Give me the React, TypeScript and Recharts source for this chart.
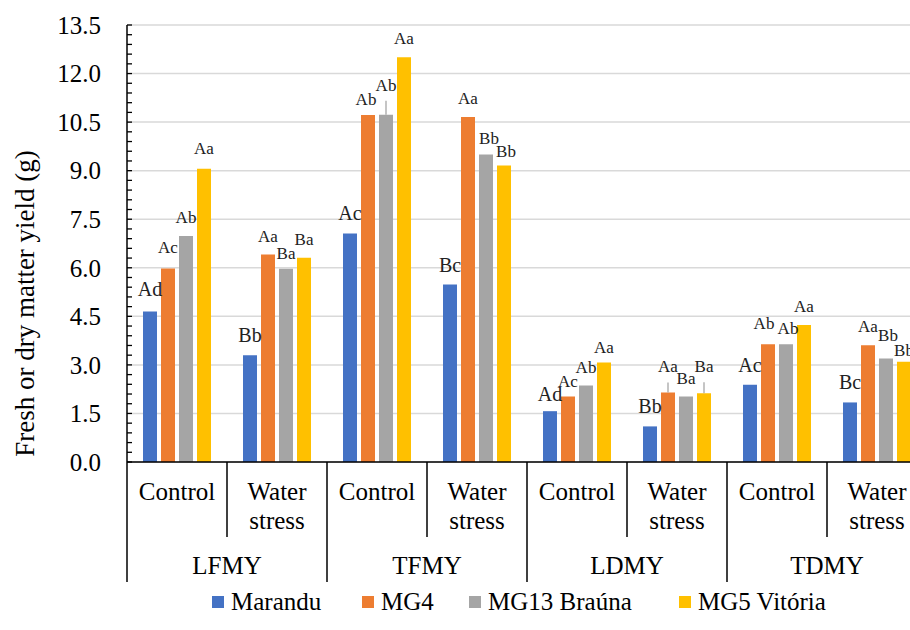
import React from 'react';
import { BarChart, Bar, XAxis, YAxis, CartesianGrid, Legend, LabelList, Label } from 'recharts';

const groups = ['LFMY', 'TFMY', 'LDMY', 'TDMY'];
const treatments = ['Control', 'Water stress'];

// one value per group/treatment, in order LFMY-C, LFMY-WS, TFMY-C, ...
const marandu = [4.65, 3.3, 7.06, 5.48, 1.57, 1.1, 2.39, 1.84];
const mg4 = [5.98, 6.41, 10.72, 10.66, 2.02, 2.15, 3.64, 3.61];
const mg13 = [6.98, 5.97, 10.73, 9.5, 2.36, 2.02, 3.64, 3.2];
const mg5 = [9.06, 6.31, 12.5, 9.16, 3.07, 2.12, 4.23, 3.1];

const maranduLetters = ['Ad', 'Bb', 'Ac', 'Bc', 'Ad', 'Bb', 'Ac', 'Bc'];
const mg4Letters = ['Ac', 'Aa', 'Ab', 'Aa', 'Ac', 'Aa', 'Ab', 'Aa'];
const mg13Letters = ['Ab', 'Ba', 'Ab', 'Bb', 'Ab', 'Ba', 'Ab', 'Bb'];
const mg5Letters = ['Aa', 'Ba', 'Aa', 'Bb', 'Aa', 'Ba', 'Aa', 'Bb'];

const yTicks = [0, 1.5, 3, 4.5, 6, 7.5, 9, 10.5, 12, 13.5];

const series = [
  { key: 'marandu', name: 'Marandu', color: '#4472C4', values: marandu, letters: maranduLetters, size: 20 },
  { key: 'mg4', name: 'MG4', color: '#ED7D31', values: mg4, letters: mg4Letters, size: 17 },
  { key: 'mg13', name: 'MG13 Braúna', color: '#A5A5A5', values: mg13, letters: mg13Letters, size: 17 },
  { key: 'mg5', name: 'MG5 Vitória', color: '#FFC000', values: mg5, letters: mg5Letters, size: 17 },
];

const cats = groups.flatMap((g) => treatments.map((t) => ({ group: g, treatment: t })));
const data = cats.map((c, i) => {
  const row: any = { key: `${c.group}|${c.treatment}` };
  series.forEach((s) => {
    row[s.key] = s.values[i];
    row[s.key + 'L'] = s.letters[i];
  });
  return row;
});

// minor ticks: five per major step
const minorTicks = yTicks
  .slice(0, -1)
  .flatMap((t, i) => [0, 1, 2, 3, 4].map((k) => Math.round((t + (k * (yTicks[i + 1] - t)) / 5) * 100) / 100))
  .concat(yTicks[yTicks.length - 1]);

const FONT = '"Liberation Serif", "Times New Roman", serif';
const W = 940;
const H = 630;
const AXIS_W = 127;
const MARGIN = { top: 25, right: 13, left: 0, bottom: 8 };
const BAND = (W - AXIS_W - MARGIN.right - MARGIN.left) / cats.length;

// label tweaks as in the source figure: [dx, extra lift, leader line]
const labelNudge: Record<string, [number, number, boolean]> = {
  'marandu-0': [0, 2, false],
  'mg4-0': [0, 2, false],
  'mg5-0': [0, 2, false],
  'mg13-1': [0, -3, false],
  'mg13-2': [0, 11, true],
  'mg4-2': [-2, -3, false],
  'mg13-3': [3, -3, false],
  'mg5-3': [2, -5, false],
  'marandu-4': [0, -3, false],
  'mg4-4': [0, -3, false],
  'mg5-4': [0, -3, false],
  'mg4-5': [0, 7, true],
  'mg5-5': [0, 8, true],
  'mg4-6': [-4, 2, false],
  'mg13-6': [2, -3, false],
  'mg13-7': [2, 4, false],
  'mg5-7': [0, -7, false],
};

// left edge of each legend marker
const legendX = [212, 362, 469, 679];

const YTick = (props: any) => {
  const { x, y, payload } = props;
  const v = payload.value;
  const major = yTicks.some((t) => Math.abs(t - v) < 1e-6);
  return (
    <g>
      <line x1={x} x2={x + 5} y1={y} y2={y} stroke="#000" strokeWidth={1.3} />
      {major && (
        <text x={x - 26} y={y} dy="0.35em" textAnchor="end" fontSize={25} fontFamily={FONT} fill="#000">
          {v.toFixed(1)}
        </text>
      )}
    </g>
  );
};

const XTick = (props: any) => {
  const { x, y, payload, index } = props;
  const [group, treatment] = String(payload.value).split('|');
  const half = BAND / 2;
  const first = treatment === treatments[0];
  const words = treatment.split(' ');
  return (
    <g fontFamily={FONT} fontSize={25} fill="#000">
      <line x1={x - half} x2={x - half} y1={y} y2={y + (first ? 120 : 75)} stroke="#000" strokeWidth={1.5} />
      {index === cats.length - 1 && (
        <line x1={x + half} x2={x + half} y1={y} y2={y + 120} stroke="#000" strokeWidth={1.5} />
      )}
      {words.map((w, i) => (
        <text key={i} x={x} y={y + 38 + i * 29} textAnchor="middle">
          {w}
        </text>
      ))}
      {first && (
        <text x={x + half} y={y + 112} textAnchor="middle">
          {group}
        </text>
      )}
    </g>
  );
};

const makeLabel = (key: string, size: number) => (props: any) => {
  const { x, y, width, value, index } = props;
  const [dx, extra, leader] = labelNudge[`${key}-${index}`] ?? [0, 0, false];
  const cx = Number(x) + Number(width) / 2;
  const top = Number(y);
  return (
    <g>
      {leader && <line x1={cx} x2={cx + dx} y1={top} y2={top - extra - 3} stroke="#a6a6a6" strokeWidth={1.3} />}
      <text x={cx + dx} y={top - 13 - extra} textAnchor="middle" fontSize={size} fontFamily={FONT} fill="#222">
        {value}
      </text>
    </g>
  );
};

const renderLegend = () => (
  <div style={{ position: 'relative', height: 40, fontSize: 25, fontFamily: FONT, color: '#000' }}>
    {series.map((s, i) => (
      <div
        key={s.key}
        style={{ position: 'absolute', left: legendX[i], top: 0, height: 40, display: 'flex', alignItems: 'center', whiteSpace: 'nowrap' }}
      >
        <span style={{ width: 12, height: 12, background: s.color, marginRight: 7, display: 'inline-block' }} />
        <span>{s.name}</span>
      </div>
    ))}
  </div>
);

export default function App() {
  return (
    <div style={{ position: 'absolute', left: 0, top: 0, width: 910, height: 630, overflow: 'hidden', background: '#fff' }}>
      <BarChart width={W} height={H} data={data} margin={MARGIN} barCategoryGap="16%" barGap={4} style={{ fontFamily: FONT }}>
        <CartesianGrid vertical={false} stroke="#d9d9d9" strokeWidth={1.5} horizontalValues={yTicks} />
        <XAxis
          dataKey="key"
          tick={<XTick />}
          tickLine={false}
          tickSize={0}
          tickMargin={0}
          interval={0}
          height={120}
          axisLine={{ stroke: '#000', strokeWidth: 1.5 }}
        />
        <YAxis
          type="number"
          domain={[0, 13.5]}
          ticks={minorTicks}
          interval={0}
          tick={<YTick />}
          tickLine={false}
          tickSize={0}
          tickMargin={0}
          width={AXIS_W}
          axisLine={{ stroke: '#000', strokeWidth: 1.5 }}
        >
          <Label
            content={(p: any) => {
              const vb = p.viewBox || { x: 0, y: MARGIN.top, height: 437 };
              // centred over plot plus category rows, as in the source
              const cx = vb.x + 25;
              const cy = vb.y + (vb.height + 120) / 2;
              return (
                <text
                  x={cx}
                  y={cy}
                  transform={`rotate(-90 ${cx} ${cy})`}
                  textAnchor="middle"
                  dy="0.35em"
                  fontSize={27}
                  fontFamily={FONT}
                  fill="#000"
                >
                  Fresh or dry matter yield (g)
                </text>
              );
            }}
          />
        </YAxis>
        <Legend verticalAlign="bottom" content={renderLegend} wrapperStyle={{ left: 0, width: W }} />
        {series.map((s) => (
          <Bar key={s.key} dataKey={s.key} name={s.name} fill={s.color} isAnimationActive={false}>
            <LabelList dataKey={s.key + 'L'} content={makeLabel(s.key, s.size)} />
          </Bar>
        ))}
      </BarChart>
    </div>
  );
}
